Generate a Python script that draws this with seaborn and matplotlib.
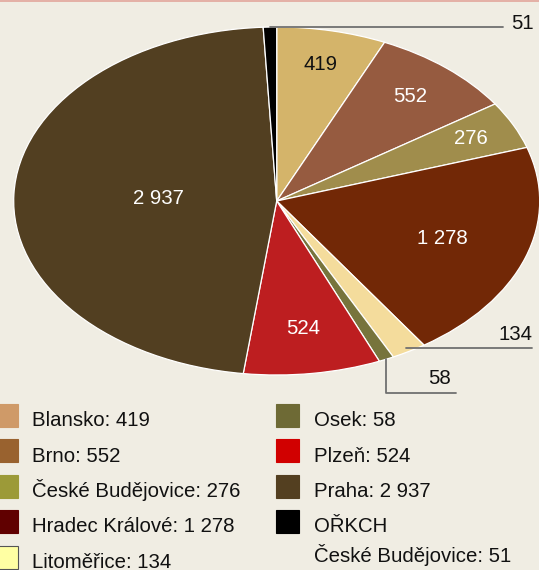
import numpy as np
import matplotlib
matplotlib.use("Agg")
import matplotlib.pyplot as plt
from matplotlib.patches import Rectangle
from matplotlib.lines import Line2D
import seaborn as sns

# ---- data ----
names = ["Blansko", "Brno", "České Budějovice", "Hradec Králové", "Litoměřice",
         "Osek", "Plzeň", "Praha", "OŘKCH\nČeské Budějovice"]
values = [419, 552, 276, 1278, 134, 58, 524, 2937, 51]
pie_colors = ["#d4b46a", "#965b40", "#a08d4c", "#722806", "#f4dc9c",
              "#77743c", "#bd1e20", "#523f21", "#000000"]
legend_colors = ["#cf9a68", "#99622f", "#9c9a38", "#600000", "#ffffa3",
                 "#6e6a35", "#d10000", "#533f20", "#000000"]
# inside-label radial distances (style), None = outside label
label_r = [0.80, 0.785, 0.82, 0.665, None, None, 0.74, 0.45, None]
label_col = ["#111111", "white", "white", "white", None, None, "white", "white", None]

def fmt(v):
    return f"{v:,}".replace(",", " ")

sns.set_theme(style="white")
plt.rcParams["font.family"] = ["Liberation Sans", "DejaVu Sans"]

BG = "#f0ede3"
W, H = 539, 570
fig = plt.figure(figsize=(W / 100, H / 100), dpi=100, facecolor=BG)

cx, cy, rx, ry = 276.7, 201.0, 263.0, 174.0
ax = fig.add_axes([(cx - rx) / W, (H - cy - ry) / H, 2 * rx / W, 2 * ry / H])
ax.set_facecolor(BG)

wedges, _ = ax.pie(values, colors=pie_colors, startangle=90, counterclock=False,
                   radius=1.0, wedgeprops=dict(edgecolor="white", linewidth=0.9))
ax.set_aspect("auto")
ax.set_xlim(-1, 1)
ax.set_ylim(-1, 1)
ax.axis("off")

FS = 14.7
for w, v, r, c in zip(wedges, values, label_r, label_col):
    if r is None:
        continue
    a = np.deg2rad((w.theta1 + w.theta2) / 2)
    ax.text(r * np.cos(a), r * np.sin(a), fmt(v), ha="center", va="center",
            fontsize=FS, color=c)

LC = "#707070"
LW = 1.3
def mid(i, r=1.0):
    w = wedges[i]
    a = np.deg2rad((w.theta1 + w.theta2) / 2)
    return r * np.cos(a), r * np.sin(a)

# 51 (OŘKCH)
x0, y0 = mid(8)
ax.plot([x0, 0.86], [y0, y0], color=LC, lw=LW, clip_on=False)
ax.text(0.89, y0 + 0.02, fmt(values[8]), ha="left", va="center", fontsize=FS,
        color="#111111", clip_on=False)
# 134 (Litoměřice)
x0, y0 = mid(4, 0.98)
ax.plot([x0, 0.971], [y0, y0], color=LC, lw=LW, clip_on=False)
ax.text(0.971, y0 + 0.025, fmt(values[4]), ha="right", va="bottom", fontsize=FS,
        color="#111111", clip_on=False)
# 58 (Osek)
x0, y0 = mid(5, 1.0)
ax.plot([x0, x0, 0.682], [y0, -1.103, -1.103], color=LC, lw=LW, clip_on=False)
ax.text(0.62, -1.103 + 0.03, fmt(values[5]), ha="center", va="bottom", fontsize=FS,
        color="#111111", clip_on=False)

# top accent line
fig.add_artist(Line2D([0, 1], [1 - 0.8 / H, 1 - 0.8 / H], transform=fig.transFigure,
                      color="#e2a59b", lw=1.2))

# ---- legend ----
def px(x, y):
    return x / W, 1 - y / H

sq = 23
step = 35.5
y_start = 415
cols = [(-5, 32, range(0, 5)), (276, 314, range(5, 9))]
for sx, tx, idxs in cols:
    for row, i in enumerate(idxs):
        yc = y_start + row * step
        x, y = px(sx, yc + sq / 2)
        ec = "#555555" if names[i] == "Litoměřice" else legend_colors[i]
        fig.add_artist(Rectangle((x, y), sq / W, sq / H, transform=fig.transFigure,
                                 facecolor=legend_colors[i], edgecolor=ec, lw=0.8))
        lines = names[i].split("\n")
        lines[-1] = lines[-1] + ": " + fmt(values[i])
        for k, t in enumerate(lines):
            tx_, ty_ = px(tx, yc + 11 + k * 30)
            fig.text(tx_, ty_, t, ha="left", va="baseline", fontsize=FS, color="#111111")

fig.savefig("out.png", dpi=100, facecolor=BG)
